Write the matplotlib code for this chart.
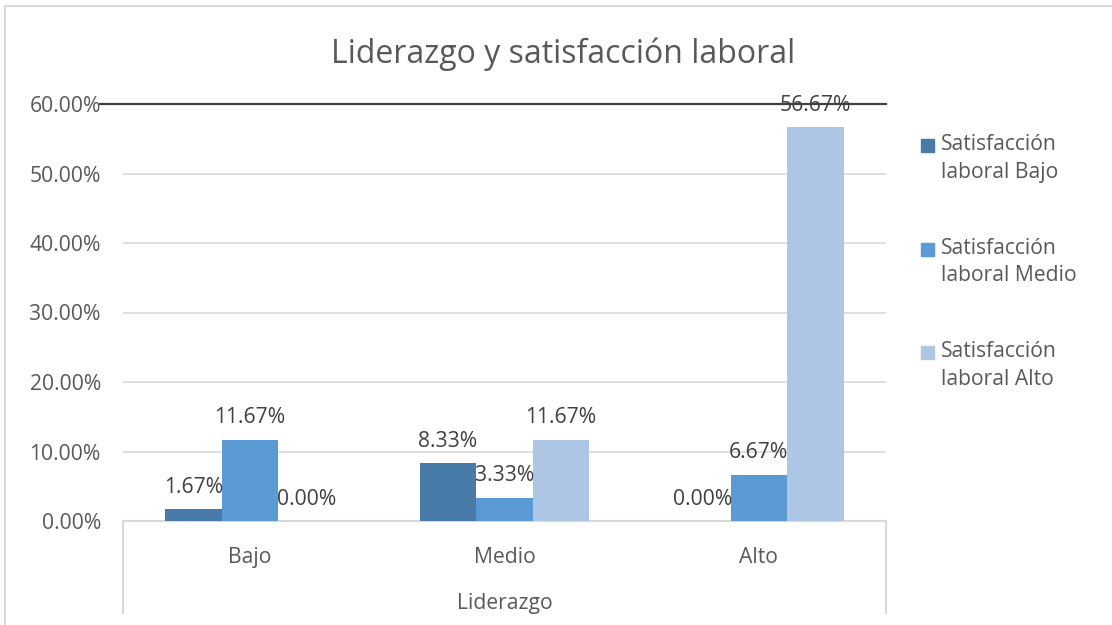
import matplotlib
matplotlib.use("Agg")
import matplotlib.pyplot as plt
from matplotlib.patches import Rectangle
from matplotlib.lines import Line2D
import numpy as np

categories = ["Bajo", "Medio", "Alto"]
series_names = ["Satisfacción\nlaboral Bajo", "Satisfacción\nlaboral Medio", "Satisfacción\nlaboral Alto"]
values = [
    [1.67, 8.33, 0.00],    # Satisfacción laboral Bajo
    [11.67, 3.33, 6.67],   # Satisfacción laboral Medio
    [0.00, 11.67, 56.67],  # Satisfacción laboral Alto
]
colors = ["#497BAA", "#5B9BD5", "#ADC6E5"]
yticks = [0, 10, 20, 30, 40, 50, 60]

plt.rcParams['font.family'] = ['Open Sans', 'DejaVu Sans']
TXT = "#595959"
FS = 15.2
W, H = 1112, 625
fig = plt.figure(figsize=(W / 100, H / 100), dpi=100)

# chart frame (left/top border)
fig.add_artist(Line2D([5 / W, 5 / W], [0, 1 - 6 / H], transform=fig.transFigure, color="#d9d9d9", lw=1.5))
fig.add_artist(Line2D([5 / W, 1], [1 - 6 / H, 1 - 6 / H], transform=fig.transFigure, color="#d9d9d9", lw=1.5))

ax = fig.add_axes([123 / W, 104 / H, 763 / W, 417 / H])
x = np.arange(len(categories))
bw = 1 / 4.5
for i, (vals, c) in enumerate(zip(values, colors)):
    bars = ax.bar(x + (i - 1) * bw, vals, width=bw, color=c, zorder=3)
    for b, v in zip(bars, vals):
        ax.annotate(f"{v:.2f}%", (b.get_x() + b.get_width() / 2, v), xytext=(0, 15.8),
                    textcoords="offset points", ha="center", va="center",
                    fontsize=FS, color="#404040", zorder=5)

ax.set_xlim(-0.5, 2.5)
ax.set_ylim(0, 60)
ax.set_yticks(yticks)
ax.set_yticklabels([f"{t:.2f}%" for t in yticks], fontsize=FS, color=TXT)
ax.set_xticks(x)
ax.set_xticklabels(categories, fontsize=FS, color=TXT)
ax.tick_params(axis="y", length=0, pad=16)
ax.tick_params(axis="x", length=0, pad=18.5)
ax.set_xlabel("Liderazgo", fontsize=FS, color=TXT, labelpad=18)

ax.yaxis.grid(True, color="#d9d9d9", lw=1.2, zorder=0)
for s in ["left", "right", "top"]:
    ax.spines[s].set_visible(False)
ax.spines["bottom"].set_color("#d9d9d9")
ax.spines["bottom"].set_linewidth(1.5)

# dark top line at 60%
ax.plot([-23 / 763, 1], [60, 60], transform=ax.get_yaxis_transform(), color="#404040",
        lw=1.6, clip_on=False, zorder=4)
# multi-level category axis boundaries
for xe in [0, 1]:
    ax.plot([xe, xe], [0, -(613 - 521) / 417], transform=ax.transAxes, color="#d9d9d9",
            lw=1.5, clip_on=False)

fig.text(0.506, 1 - 54 / H, "Liderazgo y satisfacción laboral", ha="center", va="center",
         fontsize=23, color=TXT)

# legend
for k, (name, c) in enumerate(zip(series_names, colors)):
    top = 139 + k * 103.5
    fig.add_artist(Rectangle((921 / W, 1 - (top + 13) / H), 13 / W, 13 / H,
                             transform=fig.transFigure, color=c))
    fig.text(941 / W, 1 - (top - 5) / H, name, ha="left", va="top", fontsize=FS,
             color=TXT, linespacing=1.42)

fig.savefig("out.png", dpi=100)
